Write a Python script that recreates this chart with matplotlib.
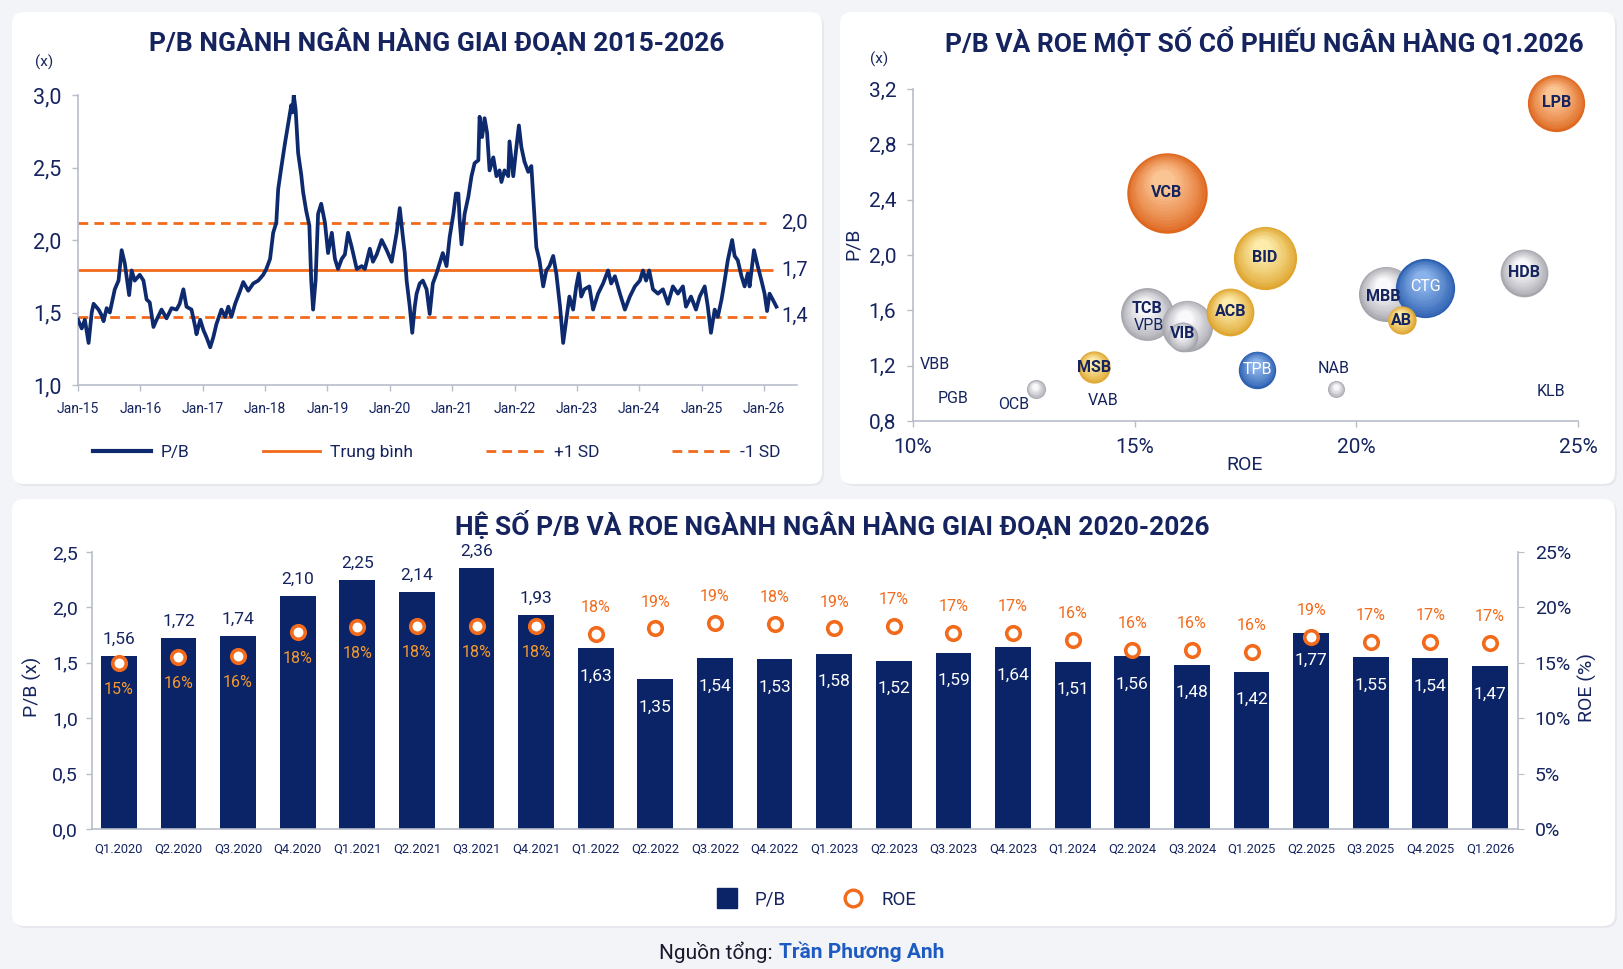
import numpy as np
import matplotlib.pyplot as plt
import matplotlib.transforms as mtransforms
from matplotlib.patches import FancyBboxPatch
from matplotlib.lines import Line2D
from matplotlib.ticker import FuncFormatter
from matplotlib.colors import to_rgb

plt.rcParams["font.family"] = ["Roboto", "DejaVu Sans"]

NAVY = "#0B2467"
LINE = "#0E2A6E"
TXT = "#15245E"
ORANGE = "#F26A1B"
SPINE = "#B8BDC9"

# ---------------- P/B nganh ngan hang 2015-2026 ----------------
pb_dates = [
    2015.00, 2015.06, 2015.11, 2015.17, 2015.22, 2015.25, 2015.33, 2015.38, 2015.41, 2015.46,
    2015.51, 2015.54, 2015.59, 2015.65, 2015.70, 2015.75, 2015.82, 2015.86, 2015.91, 2015.99,
    2016.05, 2016.10, 2016.15, 2016.21, 2016.26, 2016.34, 2016.42, 2016.50, 2016.58, 2016.63,
    2016.69, 2016.74, 2016.82, 2016.88, 2016.90, 2016.96, 2017.01, 2017.06, 2017.12, 2017.17,
    2017.22, 2017.30, 2017.36, 2017.41, 2017.46, 2017.52, 2017.60, 2017.65, 2017.73, 2017.81,
    2017.89, 2017.97, 2018.02, 2018.08, 2018.13, 2018.18, 2018.21, 2018.26, 2018.32, 2018.37,
    2018.42, 2018.44, 2018.46, 2018.49, 2018.53, 2018.58, 2018.61, 2018.66, 2018.71, 2018.74,
    2018.77, 2018.81, 2018.85, 2018.90, 2018.96, 2019.01, 2019.07, 2019.12, 2019.17, 2019.23,
    2019.28, 2019.33, 2019.39, 2019.47, 2019.55, 2019.60, 2019.68, 2019.73, 2019.79, 2019.87,
    2019.95, 2020.03, 2020.11, 2020.16, 2020.21, 2020.24, 2020.27, 2020.32, 2020.36, 2020.40,
    2020.43, 2020.48, 2020.53, 2020.59, 2020.64, 2020.69, 2020.75, 2020.80, 2020.85, 2020.91,
    2020.96, 2021.02, 2021.06, 2021.10, 2021.12, 2021.15, 2021.20, 2021.26, 2021.31, 2021.36,
    2021.42, 2021.44, 2021.48, 2021.52, 2021.56, 2021.60, 2021.66, 2021.71, 2021.76, 2021.79,
    2021.84, 2021.90, 2021.92, 2021.98, 2022.03, 2022.07, 2022.11, 2022.16, 2022.22, 2022.27,
    2022.30, 2022.32, 2022.35, 2022.40, 2022.46, 2022.51, 2022.56, 2022.62, 2022.67, 2022.73,
    2022.78, 2022.83, 2022.88, 2022.94, 2022.99, 2023.03, 2023.07, 2023.12, 2023.20, 2023.26,
    2023.34, 2023.42, 2023.50, 2023.55, 2023.61, 2023.69, 2023.77, 2023.85, 2023.93, 2024.01,
    2024.06, 2024.11, 2024.16, 2024.22, 2024.30, 2024.38, 2024.46, 2024.54, 2024.62, 2024.70,
    2024.75, 2024.83, 2024.91, 2024.97, 2025.05, 2025.10, 2025.15, 2025.21, 2025.26, 2025.32,
    2025.37, 2025.42, 2025.49, 2025.53, 2025.58, 2025.64, 2025.69, 2025.74, 2025.77, 2025.84,
    2025.90, 2025.96, 2026.01, 2026.05, 2026.09, 2026.14, 2026.20,
]
pb_values = [
    1.45, 1.39, 1.45, 1.29, 1.50, 1.56, 1.52, 1.48, 1.44, 1.53,
    1.50, 1.56, 1.66, 1.72, 1.93, 1.84, 1.62, 1.79, 1.72, 1.76,
    1.72, 1.59, 1.57, 1.40, 1.45, 1.52, 1.46, 1.53, 1.52, 1.56,
    1.66, 1.54, 1.52, 1.40, 1.35, 1.45, 1.38, 1.33, 1.26, 1.33,
    1.42, 1.52, 1.47, 1.54, 1.47, 1.56, 1.65, 1.71, 1.65, 1.70,
    1.72, 1.76, 1.80, 1.87, 2.05, 2.12, 2.35, 2.50, 2.67, 2.80,
    2.93, 2.88, 3.00, 2.90, 2.60, 2.45, 2.33, 2.20, 2.10, 1.72,
    1.52, 1.72, 2.18, 2.25, 2.12, 1.91, 2.05, 1.87, 1.80, 1.87,
    1.90, 2.05, 1.95, 1.80, 1.82, 1.80, 1.94, 1.85, 1.90, 2.00,
    1.93, 1.85, 2.05, 2.22, 2.02, 1.91, 1.72, 1.54, 1.36, 1.54,
    1.63, 1.70, 1.72, 1.66, 1.49, 1.70, 1.77, 1.84, 1.91, 1.82,
    2.02, 2.18, 2.32, 2.32, 2.14, 1.97, 2.18, 2.30, 2.44, 2.53,
    2.55, 2.85, 2.71, 2.84, 2.74, 2.48, 2.57, 2.44, 2.48, 2.40,
    2.48, 2.44, 2.68, 2.44, 2.64, 2.79, 2.64, 2.54, 2.47, 2.51,
    2.30, 2.16, 1.95, 1.86, 1.68, 1.79, 1.82, 1.89, 1.77, 1.54,
    1.29, 1.45, 1.61, 1.52, 1.68, 1.77, 1.61, 1.66, 1.68, 1.52,
    1.63, 1.70, 1.79, 1.70, 1.75, 1.63, 1.52, 1.61, 1.68, 1.72,
    1.79, 1.72, 1.79, 1.66, 1.63, 1.66, 1.56, 1.68, 1.63, 1.68,
    1.54, 1.61, 1.52, 1.61, 1.68, 1.54, 1.36, 1.52, 1.47, 1.59,
    1.72, 1.86, 2.00, 1.89, 1.86, 1.75, 1.68, 1.77, 1.68, 1.93,
    1.82, 1.72, 1.63, 1.51, 1.63, 1.59, 1.54,
]
pb_mean = 1.79
pb_plus_sd = 2.115
pb_minus_sd = 1.47
band_labels = ["2,0", "1,7", "1,4"]
year_ticks = list(range(2015, 2027))

# ---------------- P/B va ROE co phieu Q1.2026 ----------------
banks = ["VCB", "LPB", "BID", "HDB", "MBB", "CTG", "AB", "TCB", "VPB", "ACB",
         "VIB", "MSB", "TPB", "OCB", "NAB", "VBB", "PGB", "VAB", "KLB"]
roe_b = [15.73, 24.51, 17.94, 23.78, 20.67, 21.55, 21.02, 15.28, 16.19, 17.16,
         16.08, 14.08, 17.77, 12.77, 19.55, 10.50, 10.90, 14.30, 24.40]
pb_b = [2.45, 3.10, 1.98, 1.87, 1.72, 1.76, 1.53, 1.57, 1.49, 1.59,
        1.41, 1.19, 1.17, 1.03, 1.03, 1.21, 0.96, 0.95, 1.01]
cap_b = [1620, 820, 1000, 570, 760, 880, 200, 700, 660, 570,
         220, 260, 350, 90, 72, 0, 0, 0, 0]
group_b = ["o", "o", "g", "s", "s", "b", "g", "s", "s", "g",
           "s", "g", "b", "s", "s", "-", "-", "-", "-"]

# ---------------- P/B va ROE nganh 2020-2026 ----------------
quarters = ["Q1.2020", "Q2.2020", "Q3.2020", "Q4.2020", "Q1.2021", "Q2.2021", "Q3.2021", "Q4.2021",
            "Q1.2022", "Q2.2022", "Q3.2022", "Q4.2022", "Q1.2023", "Q2.2023", "Q3.2023", "Q4.2023",
            "Q1.2024", "Q2.2024", "Q3.2024", "Q1.2025", "Q2.2025", "Q3.2025", "Q4.2025", "Q1.2026"]
pb_q = [1.56, 1.72, 1.74, 2.10, 2.25, 2.14, 2.36, 1.93,
        1.63, 1.35, 1.54, 1.53, 1.58, 1.52, 1.59, 1.64,
        1.51, 1.56, 1.48, 1.42, 1.77, 1.55, 1.54, 1.47]
roe_q = [15.0, 15.5, 15.6, 17.8, 18.2, 18.3, 18.3, 18.3,
         17.6, 18.1, 18.6, 18.5, 18.1, 18.3, 17.7, 17.7,
         17.1, 16.2, 16.2, 16.0, 17.3, 16.9, 16.9, 16.8]
roe_q_labels = ["15%", "16%", "16%", "18%", "18%", "18%", "18%", "18%",
                "18%", "19%", "19%", "18%", "19%", "17%", "17%", "17%",
                "16%", "16%", "16%", "16%", "19%", "17%", "17%", "17%"]

W, H = 1623, 969


def fx(px):
    return px / W


def fy(py):
    return 1 - py / H


def comma(v, nd=1):
    return f"{v:.{nd}f}".replace(".", ",")


def mix(c1, c2, f):
    a, b = np.array(to_rgb(c1)), np.array(to_rgb(c2))
    return tuple(a + (b - a) * f)


fig = plt.figure(figsize=(W / 100, H / 100), dpi=100, facecolor="#F3F4F7")

# cards
for (x0, y0, x1, y1) in [(12, 12, 822, 484), (840, 12, 1615, 484), (12, 499, 1615, 926)]:
    for d, c in [(2, "#E6E8EE"), (0, "white")]:
        card = FancyBboxPatch(((x0 + d) / 100, (H - y1 - d) / 100), (x1 - x0) / 100, (y1 - y0) / 100,
                              boxstyle="round,pad=0,rounding_size=0.12",
                              transform=fig.dpi_scale_trans, facecolor=c, edgecolor="none", zorder=-10)
        fig.add_artist(card)

title_kw = dict(ha="center", va="center", fontsize=19, fontweight="bold", color=TXT)
fig.text(fx(437), fy(42), "P/B NGÀNH NGÂN HÀNG GIAI ĐOẠN 2015-2026", **title_kw)
fig.text(fx(1264), fy(42), "P/B VÀ ROE MỘT SỐ CỔ PHIẾU NGÂN HÀNG Q1.2026", **title_kw)
fig.text(fx(832), fy(525), "HỆ SỐ P/B VÀ ROE NGÀNH NGÂN HÀNG GIAI ĐOẠN 2020-2026", **title_kw)


def style_axis(ax):
    for s in ["top", "right"]:
        ax.spines[s].set_visible(False)
    for s in ["left", "bottom"]:
        ax.spines[s].set_color(SPINE)
        ax.spines[s].set_linewidth(1.2)
    ax.tick_params(colors=SPINE, labelcolor=TXT, length=4, width=1)
    ax.set_facecolor("none")


# ---- chart 1: line
ax1 = fig.add_axes([fx(78), fy(385), (797 - 78) / W, (385 - 95) / H])
style_axis(ax1)
ax1.plot(pb_dates, pb_values, color=LINE, lw=2.7, zorder=3, solid_joinstyle="round")
ax1.hlines(pb_mean, 2015, 2026.14, color=ORANGE, lw=2, zorder=2)
ax1.hlines([pb_plus_sd, pb_minus_sd], 2015, 2026.03, color=ORANGE, lw=2,
           linestyles=(0, (3.5, 2.2)), zorder=2)
for val, lab in zip([pb_plus_sd, pb_mean, pb_minus_sd], band_labels):
    ax1.text(2026.28, val, lab, ha="left", va="center", fontsize=14.5, color=TXT, clip_on=False)
ax1.set_xlim(2015, 2026.53)
ax1.set_ylim(1.0, 3.0)
ax1.set_xticks(year_ticks)
ax1.set_xticklabels([f"Jan-{y % 100:02d}" for y in year_ticks], fontsize=10)
ax1.set_yticks(np.arange(1.0, 3.01, 0.5))
ax1.yaxis.set_major_formatter(FuncFormatter(lambda v, p: comma(v)))
ax1.tick_params(axis="y", labelsize=15.5, pad=8)
ax1.tick_params(axis="x", pad=8)
fig.text(fx(44), fy(62), "(x)", ha="center", va="center", fontsize=11, color=TXT)

leg1 = [Line2D([], [], color=LINE, lw=3),
        Line2D([], [], color=ORANGE, lw=2),
        Line2D([], [], color=ORANGE, lw=2, ls=(0, (3.5, 2.2))),
        Line2D([], [], color=ORANGE, lw=2, ls=(0, (3.5, 2.2)))]
fig.legend(leg1, ["P/B", "Trung bình", "+1 SD", "-1 SD"], loc="center",
           bbox_to_anchor=(fx(437), fy(452)), ncol=4, frameon=False, fontsize=12.5,
           labelcolor=TXT, handlelength=3.3, columnspacing=4.2, handletextpad=0.6)

# ---- chart 2: bubbles
ax2 = fig.add_axes([fx(913), fy(421), (1578 - 913) / W, (421 - 89) / H])
style_axis(ax2)
ax2.set_xlim(10, 25)
ax2.set_ylim(0.8, 3.2)
ax2.set_xticks([10, 15, 20, 25])
ax2.xaxis.set_major_formatter(FuncFormatter(lambda v, p: f"{v:.0f}%"))
ax2.set_yticks(np.arange(0.8, 3.21, 0.4))
ax2.yaxis.set_major_formatter(FuncFormatter(lambda v, p: comma(v)))
ax2.tick_params(axis="both", labelsize=15, pad=8)
fig.text(fx(879), fy(59), "(x)", ha="center", va="center", fontsize=11, color=TXT)
fig.text(fx(853), fy(244), "P/B", ha="center", va="center", fontsize=14, color=TXT, rotation=90)
fig.text(fx(1245), fy(465), "ROE", ha="center", va="center", fontsize=14, color=TXT)

palette = {"o": ("#DE6820", "#FBC493"), "g": ("#DFA52E", "#FCEBAA"),
           "s": ("#A6A7AE", "#F9F9FB"), "b": ("#2C5FB0", "#8AB2EA")}
for i, (x, y, cap, g) in enumerate(zip(roe_b, pb_b, cap_b, group_b)):
    if cap <= 0:
        continue
    base, light = palette[g]
    s = cap * 2.07
    r_pt = np.sqrt(s) / 2
    n = 14
    for k in range(n):
        f = k / (n - 1)
        tr = mtransforms.offset_copy(ax2.transData, fig=fig, x=-0.1 * r_pt * f,
                                     y=0.3 * r_pt * f, units="points")
        ax2.scatter([x], [y], s=s * (1 - 0.72 * f) ** 2, color=mix(base, light, f ** 0.8),
                    lw=0, transform=tr, zorder=10 + i + k * 0.01, clip_on=False)

label_style = {
    "VCB": ("b", TXT, (0, 0)), "LPB": ("b", TXT, (0, 0)), "BID": ("b", TXT, (0, 0)),
    "HDB": ("b", TXT, (0, 0)), "MBB": ("b", TXT, (-2, -2)), "CTG": ("n", "white", (0, 1)),
    "AB": ("b", TXT, (0, 0)), "TCB": ("b", TXT, (0, 4)), "VPB": ("n", TXT, (-28, 0)),
    "ACB": ("b", TXT, (0, 0)), "VIB": ("b", TXT, (0, 2)), "MSB": ("b", TXT, (0, 0)),
    "TPB": ("n", "white", (0, 0)), "OCB": ("n", TXT, (-16, -11)), "NAB": ("n", TXT, (-2, 15)),
}
for name, x, y in zip(banks, roe_b, pb_b):
    w, c, off = label_style.get(name, ("n", TXT, (0, 0)))
    ax2.annotate(name, (x, y), xytext=off, textcoords="offset points", ha="center", va="center",
                 fontsize=11.5, color=c, fontweight="bold" if w == "b" else "normal",
                 zorder=100, annotation_clip=False)

# ---- chart 3: bars + ROE
xq = np.arange(len(quarters))
ax3 = fig.add_axes([fx(92), fy(829), (1518 - 92) / W, (829 - 552) / H])
style_axis(ax3)
ax3.bar(xq, pb_q, width=0.6, color=NAVY, zorder=2)
ax3.set_xlim(-0.45, len(quarters) - 0.53)
ax3.set_ylim(0, 2.5)
ax3.set_yticks(np.arange(0, 2.51, 0.5))
ax3.yaxis.set_major_formatter(FuncFormatter(lambda v, p: comma(v)))
ax3.set_xticks(xq)
ax3.set_xticklabels(quarters, fontsize=9.3)
ax3.tick_params(axis="x", length=0, pad=10)
ax3.tick_params(axis="y", labelsize=14, pad=6)

ax3r = ax3.twinx()
ax3r.set_ylim(0, 25)
ax3r.set_yticks(np.arange(0, 26, 5))
ax3r.yaxis.set_major_formatter(FuncFormatter(lambda v, p: f"{v:.0f}%"))
for s in ["top", "left", "bottom"]:
    ax3r.spines[s].set_visible(False)
ax3r.spines["right"].set_color(SPINE)
ax3r.spines["right"].set_linewidth(1.2)
ax3r.tick_params(axis="y", colors=SPINE, labelcolor=TXT, length=4, labelsize=14, pad=8)
ax3r.scatter(xq, roe_q, s=95, facecolor="white", edgecolor=ORANGE, linewidths=2.6, zorder=4)

for i, (v, r, rl) in enumerate(zip(pb_q, roe_q, roe_q_labels)):
    if i < 8:
        ax3.annotate(comma(v, 2), (i, v), xytext=(0, 12), textcoords="offset points",
                     ha="center", va="center", fontsize=12.5, color=TXT)
        ax3r.annotate(rl, (i, r), xytext=(0, -19), textcoords="offset points",
                      ha="center", va="center", fontsize=11.5, color="#F59A2E", zorder=6)
    else:
        ax3.annotate(comma(v, 2), (i, v), xytext=(0, -20), textcoords="offset points",
                     ha="center", va="center", fontsize=12.5, color="white", zorder=5)
        ax3r.annotate(rl, (i, r), xytext=(0, 19), textcoords="offset points",
                      ha="center", va="center", fontsize=11.5, color=ORANGE, zorder=6)

fig.text(fx(32), fy(687), "P/B (x)", ha="center", va="center", fontsize=14, color=TXT, rotation=90)
fig.text(fx(1587), fy(688), "ROE (%)", ha="center", va="center", fontsize=14, color=TXT, rotation=90)

leg3 = [Line2D([], [], ls="none", marker="s", markersize=15, color=NAVY),
        Line2D([], [], ls="none", marker="o", markersize=12, markerfacecolor="white",
               markeredgecolor=ORANGE, markeredgewidth=2.4)]
fig.legend(leg3, ["P/B", "ROE"], loc="center", bbox_to_anchor=(fx(812), fy(900)), ncol=2,
           frameon=False, fontsize=13.5, labelcolor=TXT, handletextpad=0.5, columnspacing=2.6)

fig.text(fx(773), fy(952), "Nguồn tổng:", ha="right", va="center", fontsize=15, color="#1A1A2E")
fig.text(fx(779), fy(952), "Trần Phương Anh", ha="left", va="center", fontsize=15,
         color="#1D5BC2", fontweight="bold")

fig.savefig("out.png", dpi=100, facecolor=fig.get_facecolor())
